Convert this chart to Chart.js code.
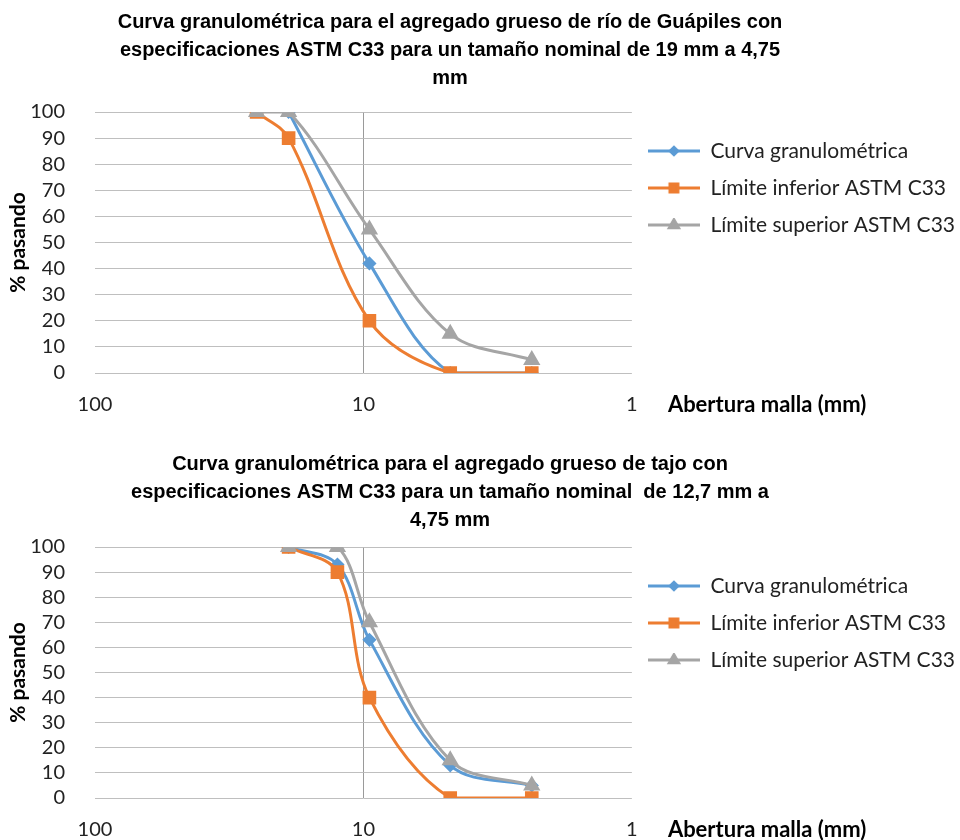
<!DOCTYPE html>
<html>
<head>
<meta charset="utf-8">
<script src="https://cdn.jsdelivr.net/npm/chart.js@4.4.1/dist/chart.umd.min.js"></script>
<style>
    body { margin: 0; background: #fff; }
    canvas { display: block; }
</style>
</head>
<body>
<canvas id="grafico1" width="960" height="420"></canvas>
<canvas id="grafico2" width="960" height="420"></canvas>
<script>
// Datos (abertura en mm, % pasando)
const tamices1 = [25, 19, 9.5, 4.75, 2.36];
const curva1 = [null, 100, 42, 0, 0];
const inferior1 = [100, 90, 20, 0, 0];
const superior1 = [100, 100, 55, 15, 5];

const tamices2 = [19, 12.5, 9.5, 4.75, 2.36];
const curva2 = [100, 93, 63, 13, 5];
const inferior2 = [100, 90, 40, 0, 0];
const superior2 = [100, 100, 70, 15, 5];

const titulo1 = [
    "Curva granulométrica para el agregado grueso de río de Guápiles con",
    "especificaciones ASTM C33 para un tamaño nominal de 19 mm a 4,75",
    "mm"
];
const titulo2 = [
    "Curva granulométrica para el agregado grueso de tajo con",
    "especificaciones ASTM C33 para un tamaño nominal  de 12,7 mm a",
    "4,75 mm"
];
const nombres = ["Curva granulométrica", "Límite inferior ASTM C33", "Límite superior ASTM C33"];
const ticksX = [100, 10, 1];

const azul = "#5B9BD5";
const naranja = "#ED7D31";
const gris = "#A5A5A5";
const estilos = ["rectRot", "rect", "triangle"];
const colores = [azul, naranja, gris];
const radios = [5, 7.5, 7];

// muestra de la leyenda: linea con el marcador en el centro
function muestra(color, estilo, radio) {
    const c = document.createElement("canvas");
    c.width = 52;
    c.height = 14;
    const g = c.getContext("2d");
    g.strokeStyle = color;
    g.lineWidth = 3;
    g.beginPath();
    g.moveTo(0, 7);
    g.lineTo(52, 7);
    g.stroke();
    g.fillStyle = color;
    g.strokeStyle = color;
    Chart.helpers.drawPoint(g, { pointStyle: estilo, radius: radio * 0.75, borderWidth: 1 }, 26, 7);
    return c;
}
const muestras = colores.map((c, i) => muestra(c, estilos[i], radios[i]));

function puntos(xs, ys) {
    return xs.map((x, i) => ({ x: x, y: ys[i] }));
}

function serie(i, xs, ys) {
    return {
        label: nombres[i],
        data: puntos(xs, ys),
        borderColor: colores[i],
        backgroundColor: colores[i],
        pointStyle: estilos[i],
        pointRadius: radios[i],
        pointHoverRadius: radios[i],
        borderWidth: 3,
        tension: 0.35,
        order: 2 - i, // gris encima
    };
}

// titulo del eje x a la derecha del "1"
const tituloEjeX = {
    id: "tituloEjeX",
    afterLayout(chart) {
        // centrar el titulo como en Excel
        chart.titleBlock.left = 0;
        chart.titleBlock.right = 900;
    },
    afterDraw(chart) {
        const { ctx, chartArea } = chart;
        ctx.save();
        ctx.font = "bold 22px Lato";
        ctx.fillStyle = "#000";
        ctx.textBaseline = "middle";
        ctx.fillText("Abertura malla (mm)", chartArea.right + 36, chartArea.bottom + 32);
        ctx.restore();
    },
};

function crear(id, titulo, padTop, padTitulo, altoX, series) {
    const ctx = document.getElementById(id).getContext("2d");
    return new Chart(ctx, {
        type: "line",
        data: { datasets: series },
        plugins: [tituloEjeX],
        options: {
            responsive: false,
            animation: false,
            layout: { padding: { left: 0, right: -5, bottom: 0 } },
            plugins: {
                tooltip: { enabled: false },
                title: {
                    display: true,
                    text: titulo,
                    color: "#000",
                    font: { family: "Liberation Sans, Arial", size: 20, weight: "bold", lineHeight: 1.4 },
                    padding: { top: padTop, bottom: padTitulo },
                },
                legend: {
                    position: "right",
                    align: "start",
                    fullSize: false,
                    maxWidth: 360,
                    title: { display: true, text: " ", padding: 0, font: { size: 10, lineHeight: 1.25 } },
                    labels: {
                        usePointStyle: true,
                        pointStyleWidth: 52,
                        boxHeight: 14,
                        padding: 16,
                        color: "#222",
                        font: { family: "Lato", size: 21 },
                        sort: (a, b) => a.datasetIndex - b.datasetIndex,
                        generateLabels: (chart) => {
                            const items = Chart.defaults.plugins.legend.labels.generateLabels(chart);
                            items.forEach((it) => { it.pointStyle = muestras[it.datasetIndex]; });
                            return items;
                        },
                    },
                },
            },
            scales: {
                x: {
                    type: "logarithmic",
                    min: 1,
                    max: 100,
                    reverse: true,
                    afterBuildTicks: (axis) => { axis.ticks = ticksX.map((v) => ({ value: v })); },
                    afterFit: (axis) => { axis.height = altoX; },
                    ticks: {
                        color: "#222",
                        font: { family: "Lato", size: 20 },
                        padding: 20,
                        maxRotation: 0,
                        autoSkip: false,
                        callback: (v) => String(v),
                    },
                    grid: {
                        drawTicks: false,
                        color: (c) => (c.tick && c.tick.value === 10 ? "#9a9a9a" : "rgba(0,0,0,0)"),
                    },
                    border: { display: false },
                },
                y: {
                    min: 0,
                    max: 100,
                    afterFit: (axis) => { axis.width = 95; },
                    ticks: {
                        stepSize: 10,
                        autoSkip: false,
                        color: "#222",
                        font: { family: "Lato", size: 20 },
                        padding: 30,
                    },
                    grid: { drawTicks: false, color: "#bfbfbf" },
                    border: { display: false },
                    title: {
                        display: true,
                        text: "% pasando",
                        color: "#000",
                        font: { family: "Lato", size: 21, weight: "bold" },
                        padding: { top: 6, bottom: 0 },
                    },
                },
            },
        },
    });
}

crear("grafico1", titulo1, 8, 20, 47, [
    serie(0, tamices1, curva1),
    serie(1, tamices1, inferior1),
    serie(2, tamices1, superior1),
]);
crear("grafico2", titulo2, 30, 13, 42, [
    serie(0, tamices2, curva2),
    serie(1, tamices2, inferior2),
    serie(2, tamices2, superior2),
]);
</script>
</body>
</html>
